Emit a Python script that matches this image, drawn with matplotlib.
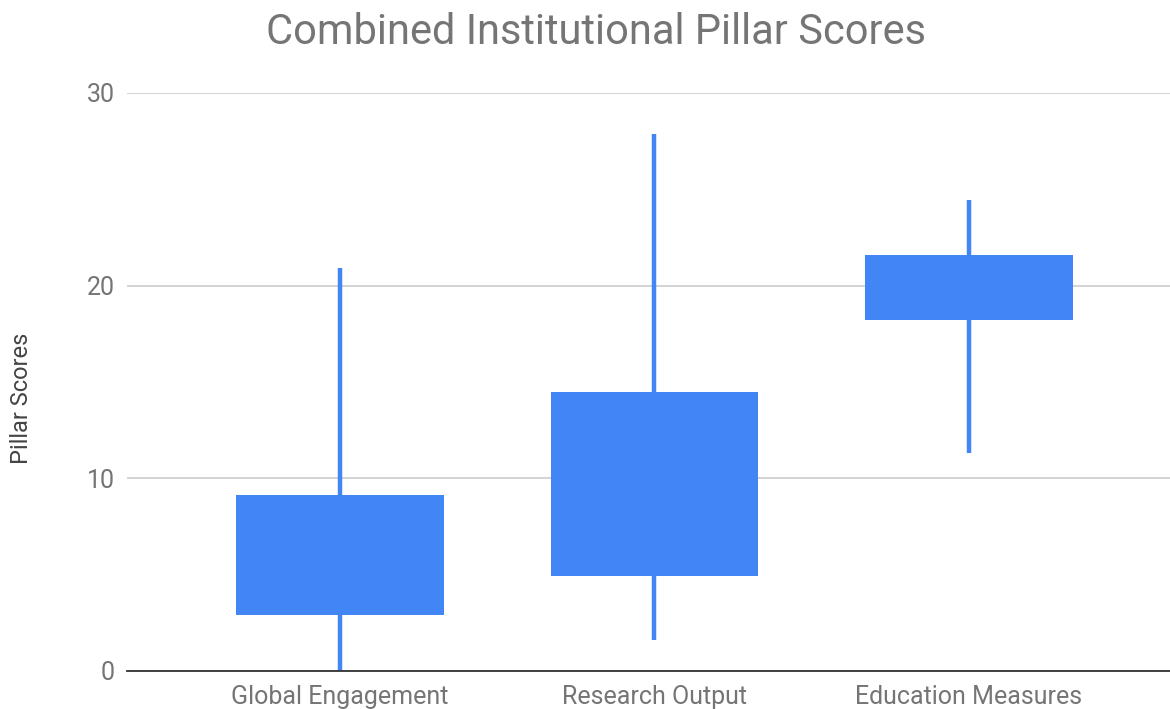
import matplotlib
matplotlib.use("Agg")
import matplotlib.pyplot as plt
import numpy as np

# ── Data ─────────────────────────────────────────────────────────────────────
categories = ["Global Engagement", "Research Output", "Education Measures"]
low        = [0.0, 1.6, 11.3]
box_low    = [2.9, 4.95, 18.2]
box_high   = [9.15, 14.5, 21.6]
high       = [20.9, 27.85, 24.45]

BLUE = "#4285F4"
plt.rcParams["font.family"] = ["Roboto", "DejaVu Sans"]

fig = plt.figure(figsize=(11.7, 7.09), dpi=100)
ax = fig.add_axes([127/1170, 1 - 671/709, 1 - 127/1170, (671 - 93)/709])

x = np.arange(len(categories))
ax.vlines(x, low, high, color=BLUE, linewidth=3.2, zorder=2)
ax.bar(x, np.array(box_high) - np.array(box_low), bottom=box_low,
       width=0.66, color=BLUE, zorder=3)

ax.set_xlim(-0.677, 2.64)
ax.set_ylim(0, 30)
ax.set_yticks([0, 10, 20, 30])
ax.set_xticks(x)
ax.set_xticklabels(categories)
ax.tick_params(length=0, labelsize=18, colors="#757575")
ax.tick_params(axis="x", pad=10)
ax.tick_params(axis="y", pad=9)
ax.grid(axis="y", color="#cccccc", linewidth=1.2, zorder=0)
for s in ["top", "right", "left"]:
    ax.spines[s].set_visible(False)
ax.spines["bottom"].set_color("#333333")
ax.spines["bottom"].set_linewidth(1.3)
ax.spines["bottom"].set_zorder(4)

fig.text(22/1170, 1 - 398/709, "Pillar Scores", rotation=90, ha="center",
         va="center", fontsize=17, color="#444444")
fig.text(596/1170, 1 - 33/709, "Combined Institutional Pillar Scores",
         ha="center", va="center", fontsize=30, color="#757575")

fig.savefig("out.png", dpi=100)
